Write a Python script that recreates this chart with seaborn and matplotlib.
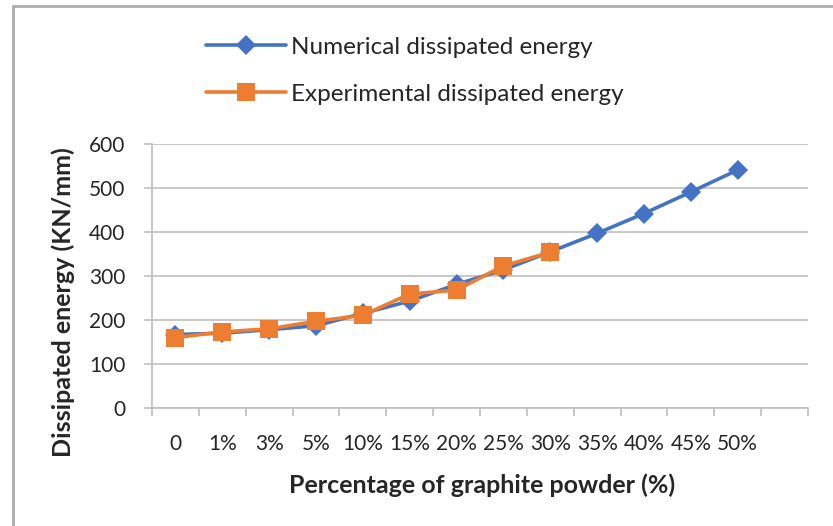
import numpy as np
import pandas as pd
import matplotlib.pyplot as plt
import matplotlib.lines as mlines
import seaborn as sns

# graphite content categories (last slot is left empty like the original chart)
categories = ['0', '1%', '3%', '5%', '10%', '15%', '20%', '25%', '30%', '35%', '40%', '45%', '50%', '']
numerical = [167, 170, 178, 187, 215, 243, 281, 314, 355, 397, 442, 491, 541, np.nan]
experimental = [160, 173, 180, 197, 211, 259, 268, 323, 354, np.nan, np.nan, np.nan, np.nan, np.nan]

blue = '#4472C4'
orange = '#ED7D31'
grid_grey = '#BFBFBF'

sns.set_style('white')
plt.rcParams['font.family'] = ['Lato', 'DejaVu Sans']

df = pd.DataFrame({'pos': np.arange(len(categories)),
                   'Numerical dissipated energy': numerical,
                   'Experimental dissipated energy': experimental})

W, H = 833, 526
fig = plt.figure(figsize=(W / 100, H / 100), dpi=100)
ax = fig.add_axes([152/W, 1 - 408/H, (808-152)/W, (408-144)/H])

# outer chart border (only top and left visible in the crop)
fig.add_artist(mlines.Line2D([13/W, 1], [1 - 5.5/H, 1 - 5.5/H], color='#ADADAD', linewidth=2.0))
fig.add_artist(mlines.Line2D([13/W, 13/W], [0, 1 - 5.5/H], color='#ADADAD', linewidth=2.0))

sns.lineplot(data=df, x='pos', y='Numerical dissipated energy', ax=ax, color=blue,
             marker='D', markersize=10.5, linewidth=2.6, markeredgewidth=0,
             label='Numerical dissipated energy')
sns.lineplot(data=df, x='pos', y='Experimental dissipated energy', ax=ax, color=orange,
             marker='s', markersize=13, linewidth=2.6, markeredgewidth=0,
             label='Experimental dissipated energy')

ax.set_xlim(-0.5, len(categories) - 0.5)
ax.set_ylim(0, 600)
ax.set_yticks(range(0, 601, 100))
ax.yaxis.grid(True, color=grid_grey, linewidth=1.2)
ax.xaxis.grid(False)

# tick marks between categories, labels in the middle
ax.set_xticks(np.arange(len(categories) + 1) - 0.5)
ax.set_xticklabels([])
ax.set_xticks(np.arange(len(categories)), minor=True)
ax.set_xticklabels(categories, minor=True, fontsize=15)
ax.tick_params(axis='x', which='major', length=6, color=grid_grey, width=1.2, direction='out')
ax.tick_params(axis='x', which='minor', length=0, pad=19)
ax.tick_params(axis='y', length=6, color=grid_grey, width=1.2, direction='out', labelsize=15, pad=13)
ax.tick_params(bottom=True, left=True)

for side in ['top', 'right']:
    ax.spines[side].set_visible(False)
for side in ['left', 'bottom']:
    ax.spines[side].set_color(grid_grey)
    ax.spines[side].set_linewidth(1.2)

ax.set_xlabel('Percentage of graphite powder (%)', fontsize=18, fontweight='bold')
ax.set_ylabel('Dissipated energy (KN/mm)', fontsize=18, fontweight='bold')
ax.xaxis.set_label_coords((482 - 152) / 656, (408 - 473) / 264)
ax.yaxis.set_label_coords((75 - 152) / 656, 0.40)

ax.legend_.remove()
handles, labels = ax.get_legend_handles_labels()
fig.legend(handles, labels, loc='upper left', bbox_to_anchor=(184/W, 1 - 15/H),
           frameon=False, fontsize=17.5, handlelength=3.3, handletextpad=0.2,
           labelspacing=1.07)

plt.savefig('out.png', dpi=100)
